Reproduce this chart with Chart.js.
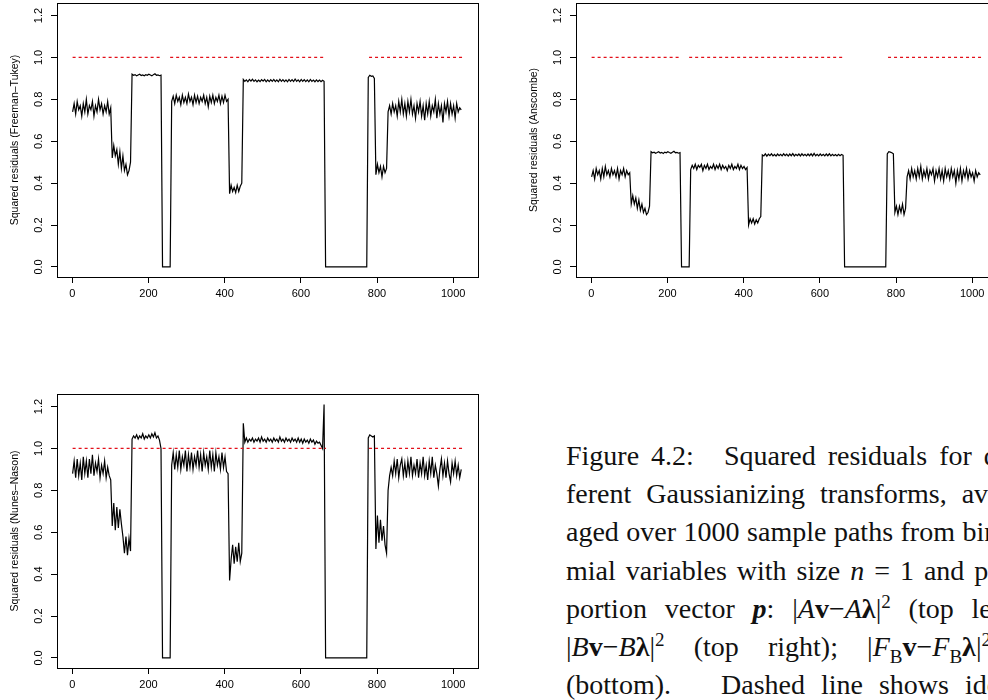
<!DOCTYPE html>
<html>
<head>
<meta charset="utf-8">
<script src="https://cdn.jsdelivr.net/npm/chart.js@4.4.0/dist/chart.umd.min.js"></script>
<style>
  html, body { margin: 0; padding: 0; background: #fff; }
  body { width: 988px; height: 700px; overflow: hidden; position: relative; }
  canvas { position: absolute; }
  #c1 { left: 0; top: 0; }
  #c2 { left: 519px; top: 0; }
  #c3 { left: 0; top: 391px; }
  #caption {
    position: absolute; left: 566px; top: 437px;
    font-family: "Liberation Serif", "DejaVu Serif", serif;
    font-size: 28px; line-height: 38.2px; color: #111;
  }
  #caption .ln { white-space: nowrap; }
  #caption .jl { width: 460px; text-align: justify; text-align-last: justify; }
  #caption .m { display: inline-block; }
  #caption .sp { display: inline-block; }
  #caption sup, #caption sub { font-size: 0.68em; line-height: 0; }
</style>
</head>
<body>
<canvas id="c1" width="490" height="310"></canvas>
<canvas id="c2" width="490" height="310"></canvas>
<canvas id="c3" width="490" height="310"></canvas>

<div id="caption">
  <div class="ln" style="word-spacing:5px">Figure 4.2:<span class="sp" style="width:30px"></span>Squared residuals for dif-</div>
  <div class="ln" style="word-spacing:8px">ferent Gaussianizing transforms, aver-</div>
  <div class="ln" style="word-spacing:0.5px">aged over 1000 sample paths from bino-</div>
  <div class="ln" style="word-spacing:3px">mial variables with size <span class="m"><i>n</i> = 1</span> and pro-</div>
  <div class="jl">portion vector <span class="m"><b><i>p</i></b>:</span> <span class="m">|<i>A</i><b>v</b>−<i>A</i><b>λ</b>|<sup>2</sup></span> (top left);</div>
  <div class="jl" style="width:425px"><span class="m">|<i>B</i><b>v</b>−<i>B</i><b>λ</b>|<sup>2</sup></span> (top right); <span class="m">|<i>F</i><sub>B</sub><b>v</b>−<i>F</i><sub>B</sub><b>λ</b>|<sup>2</sup></span></div>
  <div class="ln" style="word-spacing:9px">(bottom).<span class="sp" style="width:50px"></span>Dashed line shows identity</div>
</div>

<script>
// sample grid: x = 1, 5, 9, ... 1021
var xStart = 1;
var xStep = 4;

var xTickVals = [0, 200, 400, 600, 800, 1000];
var xTickLabels = ['0', '200', '400', '600', '800', '1000'];
var yTickVals = [0, 0.2, 0.4, 0.6, 0.8, 1.0, 1.2];
var yTickLabels = ['0.0', '0.2', '0.4', '0.6', '0.8', '1.0', '1.2'];

// Freeman-Tukey
var ftValues = [
  0.74,0.78,0.73,0.79,0.75,0.77,0.72,0.78,0.74,0.80,0.73,0.77,0.75,0.79,0.72,0.77,0.74,0.80,0.75,0.78,0.73,0.77,0.74,0.79,0.73,0.76,
  0.52,0.58,0.53,0.56,0.49,0.55,0.47,0.53,0.46,0.49,0.44,0.46,0.50,
  0.92,0.915,0.918,0.912,0.916,0.92,0.914,0.917,0.913,0.918,0.915,0.92,0.916,0.912,0.918,0.922,0.915,0.917,0.913,0.916,
  0,0,0,0,0,0,
  0.79,0.815,0.78,0.82,0.79,0.81,0.775,0.82,0.785,0.81,0.78,0.825,0.79,0.81,0.775,0.82,0.785,0.815,0.78,0.81,
  0.79,0.82,0.78,0.81,0.765,0.815,0.785,0.82,0.78,0.81,0.79,0.82,0.78,0.815,0.785,0.82,0.79,0.80,
  0.35,0.39,0.36,0.38,0.355,0.39,0.36,0.385,0.40,
  0.895,0.886,0.893,0.884,0.895,0.887,0.896,0.886,0.893,0.884,0.892,0.885,0.894,0.887,0.895,0.884,0.893,0.885,0.894,0.886,
  0.895,0.885,0.893,0.884,0.896,0.886,0.894,0.885,0.893,0.884,0.895,0.886,0.894,0.885,0.897,0.886,0.893,0.884,0.895,0.886,
  0.894,0.885,0.893,0.884,0.895,0.886,0.892,0.884,0.893,0.885,0.892,0.884,0.891,0.886,
  0,0,0,0,0,0,0,0,0,0,0,0,0,0,0,0,0,0,0,0,0,0,0,0,0,0,0,0,
  0.905,0.915,0.91,0.912,0.90,
  0.44,0.49,0.45,0.48,0.43,0.48,0.45,0.47,
  0.74,0.77,0.73,0.78,0.74,0.77,0.72,0.79,0.74,0.80,0.73,0.78,0.72,0.79,0.74,0.80,0.73,0.77,0.71,0.78,
  0.74,0.79,0.72,0.77,0.70,0.78,0.73,0.79,0.72,0.77,0.74,0.80,0.71,0.78,0.73,0.77,0.69,0.78,0.74,0.79,
  0.72,0.78,0.73,0.77,0.71,0.78,0.74,0.76,0.75
];

// Anscombe
var anValues = [
  0.43,0.46,0.42,0.47,0.44,0.46,0.42,0.47,0.43,0.48,0.44,0.46,0.43,0.47,0.44,0.46,0.43,0.47,0.42,0.46,0.44,0.47,0.43,0.46,0.44,0.45,
  0.30,0.34,0.30,0.33,0.28,0.32,0.27,0.30,0.26,0.28,0.25,0.26,0.29,
  0.55,0.545,0.548,0.543,0.546,0.55,0.544,0.547,0.542,0.548,0.545,0.55,0.546,0.543,0.548,0.552,0.545,0.547,0.543,0.546,
  0,0,0,0,0,0,
  0.465,0.485,0.47,0.49,0.465,0.485,0.475,0.49,0.46,0.485,0.47,0.49,0.465,0.48,0.47,0.49,0.465,0.485,0.47,0.49,
  0.465,0.485,0.47,0.48,0.46,0.485,0.47,0.49,0.465,0.48,0.47,0.49,0.465,0.485,0.47,0.48,0.465,0.475,
  0.20,0.23,0.21,0.23,0.205,0.225,0.21,0.23,0.24,
  0.535,0.53,0.54,0.529,0.538,0.531,0.54,0.53,0.537,0.529,0.539,0.531,0.538,0.53,0.54,0.531,0.538,0.529,0.539,0.531,
  0.541,0.53,0.538,0.531,0.539,0.53,0.54,0.531,0.538,0.53,0.539,0.531,0.54,0.53,0.542,0.531,0.538,0.53,0.539,0.531,
  0.538,0.53,0.539,0.531,0.54,0.53,0.538,0.531,0.537,0.53,0.538,0.531,0.537,0.533,
  0,0,0,0,0,0,0,0,0,0,0,0,0,0,0,0,0,0,0,0,0,0,0,0,0,0,0,0,
  0.54,0.55,0.548,0.545,0.54,
  0.26,0.29,0.25,0.29,0.26,0.30,0.25,0.28,
  0.43,0.46,0.42,0.47,0.43,0.46,0.42,0.47,0.43,0.48,0.42,0.46,0.43,0.47,0.42,0.46,0.44,0.47,0.41,0.46,
  0.43,0.47,0.42,0.46,0.41,0.47,0.43,0.46,0.42,0.47,0.43,0.46,0.40,0.46,0.42,0.47,0.41,0.46,0.43,0.47,
  0.42,0.46,0.43,0.45,0.41,0.46,0.43,0.45,0.44
];

// Nunes-Nason
var nnValues = [
  0.88,0.94,0.86,0.95,0.87,0.93,0.85,0.96,0.88,0.94,0.86,0.95,0.88,0.97,0.87,0.93,0.89,0.95,0.86,0.92,0.88,0.94,0.86,0.91,0.87,0.85,
  0.63,0.74,0.61,0.72,0.62,0.71,0.64,0.58,0.50,0.58,0.49,0.57,0.51,
  1.045,1.06,1.05,1.065,1.045,1.06,1.05,1.07,1.045,1.06,1.05,1.065,1.05,1.07,1.055,1.075,1.05,1.06,1.04,1.00,
  0,0,0,0,0,0,
  0.92,0.98,0.90,0.97,0.91,0.99,0.90,0.96,0.92,0.99,0.89,0.97,0.91,0.98,0.90,0.96,0.92,0.99,0.91,0.97,
  0.89,0.98,0.92,0.96,0.90,0.99,0.91,0.97,0.89,0.98,0.92,0.96,0.90,0.98,0.91,0.96,0.89,0.88,
  0.37,0.47,0.54,0.45,0.53,0.46,0.55,0.46,0.50,
  1.12,1.03,1.05,1.03,1.045,1.035,1.05,1.03,1.045,1.035,1.05,1.03,1.055,1.035,1.045,1.03,1.05,1.035,1.045,1.03,
  1.05,1.035,1.045,1.03,1.055,1.035,1.045,1.03,1.05,1.035,1.045,1.03,1.05,1.035,1.045,1.03,1.05,1.03,1.045,1.025,
  1.045,1.03,1.04,1.025,1.045,1.03,1.04,1.02,1.035,1.025,1.03,1.015,1.0,1.21,
  0,0,0,0,0,0,0,0,0,0,0,0,0,0,0,0,0,0,0,0,0,0,0,0,0,0,0,0,
  1.05,1.065,1.06,1.055,1.06,
  0.52,0.68,0.55,0.66,0.56,0.63,0.54,0.50,
  0.80,0.87,0.91,0.87,0.94,0.88,0.95,0.86,0.92,0.95,0.87,0.93,0.86,0.94,0.88,0.96,0.87,0.92,0.88,0.95,
  0.86,0.93,0.88,0.96,0.87,0.92,0.85,0.94,0.88,0.96,0.86,0.92,0.88,0.82,0.90,0.95,0.87,0.93,0.86,0.94,
  0.88,0.84,0.93,0.88,0.94,0.87,0.92,0.86,0.90
];

// dashed identity line (y = 1) runs
var identityTop = [[1, 231], [257, 666], [779, 1024]];
var identityBottom = [[1, 666], [779, 1024]];

var axisFont = '"Liberation Sans", Arial, Helvetica, sans-serif';

function toPoints(vals) {
  return vals.map(function(v, i) { return { x: xStart + xStep * i, y: v }; });
}

function identityPoints(ranges) {
  var pts = [];
  ranges.forEach(function(r) {
    pts.push({ x: r[0], y: 1 });
    pts.push({ x: r[1], y: 1 });
    pts.push({ x: r[1], y: null });
  });
  return pts;
}

// R style box, rotated y tick labels and y title
var rFrame = {
  id: 'rFrame',
  afterDraw: function(chart, args, opts) {
    var ctx = chart.ctx, a = chart.chartArea, ys = chart.scales.y;
    ctx.save();
    ctx.strokeStyle = '#000';
    ctx.lineWidth = 1;
    ctx.strokeRect(Math.round(a.left) + 0.5, Math.round(a.top) + 0.5,
                   Math.round(a.right - a.left), Math.round(a.bottom - a.top));
    ctx.fillStyle = '#000';
    ctx.textAlign = 'center';
    ctx.textBaseline = 'middle';
    ctx.font = '11px ' + axisFont;
    yTickVals.forEach(function(v, i) {
      ctx.save();
      ctx.translate(a.left - 18, ys.getPixelForValue(v));
      ctx.rotate(-Math.PI / 2);
      ctx.fillText(yTickLabels[i], 0, 0);
      ctx.restore();
    });
    ctx.font = '10.5px ' + axisFont;
    ctx.translate(a.left - 42, (a.top + a.bottom) / 2);
    ctx.rotate(-Math.PI / 2);
    ctx.fillText(opts.title, 0, 0);
    ctx.restore();
  }
};

function makeChart(id, vals, idRanges, yTitle) {
  var ctx = document.getElementById(id).getContext('2d');
  return new Chart(ctx, {
    type: 'line',
    data: {
      datasets: [{
        data: identityPoints(idRanges),
        borderColor: '#e3101a',
        borderWidth: 1.2,
        borderDash: [3, 3],
        pointRadius: 0,
        spanGaps: false,
        order: 0
      }, {
        data: toPoints(vals),
        borderColor: '#000',
        borderWidth: 1.2,
        pointRadius: 0,
        tension: 0,
        order: 1
      }]
    },
    options: {
      responsive: false,
      animation: false,
      devicePixelRatio: 1,
      layout: { padding: { top: 3, right: 12, left: 0, bottom: 0 } },
      plugins: {
        legend: { display: false },
        tooltip: { enabled: false },
        rFrame: { title: yTitle }
      },
      scales: {
        x: {
          type: 'linear',
          min: -40,
          max: 1065,
          afterBuildTicks: function(s) { s.ticks = xTickVals.map(function(v) { return { value: v }; }); },
          afterFit: function(s) { s.height = 33; },
          border: { display: false },
          grid: { drawOnChartArea: false, drawTicks: true, tickLength: 6, color: '#000', lineWidth: 1 },
          ticks: {
            color: '#000',
            padding: 4,
            maxRotation: 0,
            font: { family: axisFont, size: 11 },
            callback: function(v) { return xTickLabels[xTickVals.indexOf(v)]; }
          }
        },
        y: {
          type: 'linear',
          min: -0.048,
          max: 1.26,
          afterBuildTicks: function(s) { s.ticks = yTickVals.map(function(v) { return { value: v }; }); },
          afterFit: function(s) { s.width = 57; },
          border: { display: false },
          grid: { drawOnChartArea: false, drawTicks: true, tickLength: 6, color: '#000', lineWidth: 1 },
          ticks: { display: false }
        }
      }
    },
    plugins: [rFrame]
  });
}

makeChart('c1', ftValues, identityTop, 'Squared residuals (Freeman\u2013Tukey)');
makeChart('c2', anValues, identityTop, 'Squared residuals (Anscombe)');
makeChart('c3', nnValues, identityBottom, 'Squared residuals (Nunes\u2013Nason)');
</script>
</body>
</html>
